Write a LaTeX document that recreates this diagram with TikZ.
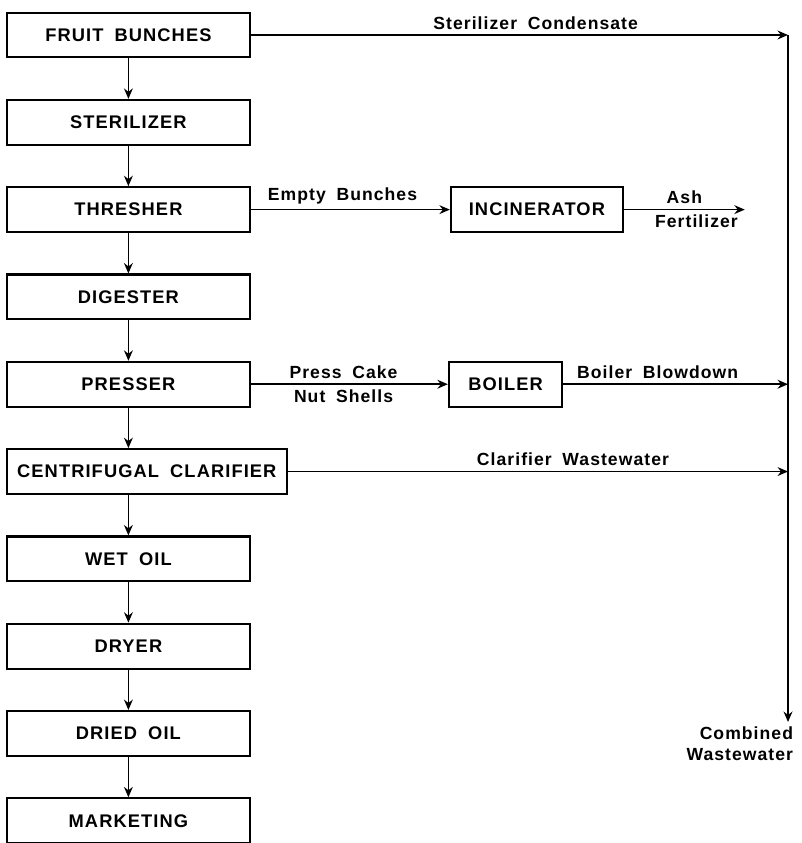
\documentclass[tikz,border=0pt]{standalone}
\usepackage{fontspec}
\setmainfont{Liberation Sans}[LetterSpace=6,WordSpace=1.8]
\usetikzlibrary{arrows.meta,positioning}

\begin{document}
\begin{tikzpicture}[
    node distance=1.01cm,
    box/.style={rectangle,draw,line width=1.5pt,align=center,
                minimum width=6.08cm,minimum height=1.12cm,
                font=\fontsize{13}{15}\selectfont\bfseries},
    lbl/.style={font=\fontsize{12.5}{15}\selectfont\bfseries},
    arr/.style={-{Stealth[length=2.6mm,width=2.2mm]},line width=1.2pt},
  ]
    \useasboundingbox (0,0) rectangle (20.025,-21.075);
    \node[box] (fruit) at (3.21,-0.875) {FRUIT BUNCHES};
    \node[box,below=of fruit] (ster) {STERILIZER};
    \node[box,below=of ster] (thresh) {THRESHER};
    \node[box,below=of thresh] (dig) {DIGESTER};
    \node[box,below=of dig] (presser) {PRESSER};
    \node[box,minimum width=7cm,below=1.01cm of presser.south west,anchor=north west] (clar) {CENTRIFUGAL CLARIFIER};
    \node[box,below=1.01cm of clar.south west,anchor=north west] (wet) {WET OIL};
    \node[box,below=of wet] (dryer) {DRYER};
    \node[box,below=of dryer] (dried) {DRIED OIL};
    \node[box,below=of dried] (market) {MARKETING};
    \node[box,minimum width=4.3cm,right=4.97cm of thresh] (incin) {INCINERATOR};
    \node[box,minimum width=2.83cm,right=4.92cm of presser] (boiler) {BOILER};
    \coordinate[right=3.02cm of incin.east] (ash);
    \coordinate (cw) at (19.7,-0.875);
    \node[lbl,align=right,anchor=north east] (comb) at (19.95,-18.05) {Combined\\Wastewater};

    \draw[arr] (fruit) -- (ster);
    \draw[arr] (ster) -- (thresh);
    \draw[arr] (thresh) -- (dig);
    \draw[arr] (dig) -- (presser);
    \draw[arr] (presser) -- (presser |- clar.north);
    \draw[arr] (clar.south -| wet) -- (wet);
    \draw[arr] (wet) -- (dryer);
    \draw[arr] (dryer) -- (dried);
    \draw[arr] (dried) -- (market);
    \draw[arr] (fruit.east) -- node[lbl,above,pos=0.53]{Sterilizer Condensate} (fruit.east -| cw);
    \draw[arr] (thresh.east) -- node[lbl,above,pos=0.46]{Empty Bunches} (incin.west);
    \draw[arr] (incin.east) -- node[lbl,above]{Ash} node[lbl,below,pos=0.6]{Fertilizer} (ash);
    \draw[arr] (presser.east) -- node[lbl,above,pos=0.47]{Press Cake} node[lbl,below,pos=0.47]{Nut Shells} (boiler.west);
    \draw[arr] (boiler.east) -- node[lbl,above,pos=0.42]{Boiler Blowdown} (boiler.east -| cw);
    \draw[arr] (clar.east) -- node[lbl,above,pos=0.57]{Clarifier Wastewater} (clar.east -| cw);
    \draw[arr] (fruit.east -| cw) -- (comb.north -| cw);
  \end{tikzpicture}
\end{document}
